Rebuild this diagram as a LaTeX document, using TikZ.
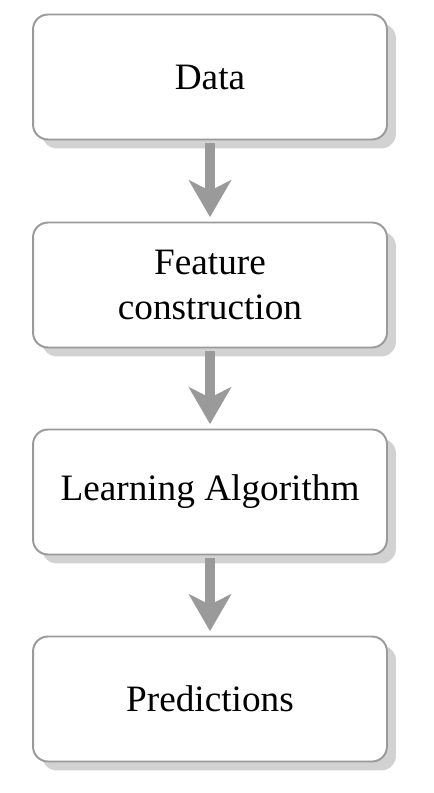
\documentclass[tikz,border=0pt]{standalone}
\usepackage{fontspec}
\setmainfont{Liberation Serif}
\usetikzlibrary{shadows,arrows.meta}

\definecolor{boxgray}{HTML}{9A9A9A}
\definecolor{shadowgray}{HTML}{D2D2D2}

\tikzset{
	stage/.style={draw=boxgray, line width=1.1pt, fill=white, rounded corners=8.5pt,
		minimum width=7.08cm, minimum height=2.5cm, align=center,
		font=\fontsize{21.2}{25.5}\selectfont,
		drop shadow={shadow xshift=0.18cm, shadow yshift=-0.18cm, fill=shadowgray, opacity=1}},
	flow/.style={draw=boxgray, fill=boxgray, line width=5.7pt,
		-{Stealth[width=24pt, length=21pt, inset=6pt]}, shorten <=1.5pt, shorten >=2.5pt}
}

\begin{document}
\begin{tikzpicture}[x=0.02cm, y=-0.02cm]
	\useasboundingbox (0, 0) rectangle (433, 793);

	\node[stage] (0) at (210, 77) {Data};
	\node[stage] (1) at (210, 285) {Feature\\construction};
	\node[stage] (2) at (210, 492) {Learning Algorithm};
	\node[stage] (3) at (210, 699) {Predictions};

	\draw[flow] (0) -- (1);
	\draw[flow] (1) -- (2);
	\draw[flow] (2) -- (3);

\end{tikzpicture}
\end{document}
